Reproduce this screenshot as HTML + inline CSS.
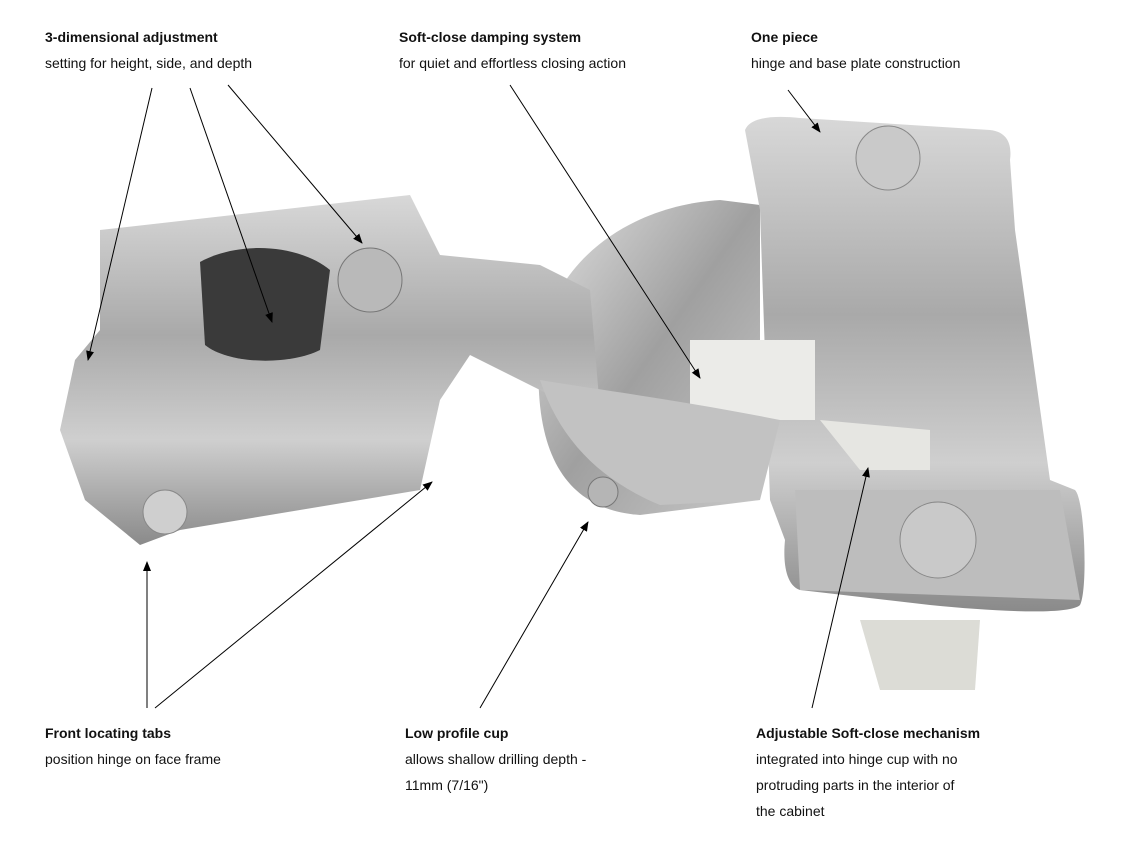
<!DOCTYPE html>
<html><head><meta charset="utf-8"><style>
html,body{margin:0;padding:0;background:#fff;}
body{width:1134px;height:850px;position:relative;overflow:hidden;font-family:"Liberation Sans",sans-serif;color:#111;}
.t{position:absolute;font-size:14px;line-height:26px;}
.t b{font-weight:bold;}
svg{position:absolute;left:0;top:0;}
</style></head><body>
<svg width="1134" height="850" viewBox="0 0 1134 850">
<defs>
<linearGradient id="m" x1="0" y1="0" x2="0" y2="1"><stop offset="0" stop-color="#d8d8d8"/><stop offset=".4" stop-color="#a9a9a9"/><stop offset=".7" stop-color="#cfcfcf"/><stop offset="1" stop-color="#8a8a8a"/></linearGradient>
<linearGradient id="m2" x1="0" y1="0" x2="1" y2="1"><stop offset="0" stop-color="#e2e2e2"/><stop offset=".5" stop-color="#a0a0a0"/><stop offset="1" stop-color="#c8c8c8"/></linearGradient>
<marker id="a" markerWidth="10" markerHeight="10" refX="9" refY="4" orient="auto" markerUnits="userSpaceOnUse"><path d="M0,0 L10,4 L0,8z" fill="#000"/></marker>
</defs>
<!-- cup -->
<path d="M540,340 C560,250 640,205 720,200 L760,205 L760,500 L640,515 C570,510 530,460 540,340Z" fill="url(#m2)"/>
<!-- right base plate -->
<path d="M745,130 C750,118 770,115 800,118 L990,130 C1008,132 1012,145 1010,160 L1015,230 L1050,480 L1075,490 C1085,500 1088,590 1080,605 C1070,615 1000,612 930,605 L800,590 C785,585 783,560 785,540 L770,500 L760,210 Z" fill="url(#m)"/>
<path d="M795,490 L1060,490 L1080,600 L800,590Z" fill="#bdbdbd"/>
<circle cx="938" cy="540" r="38" fill="#c9c9c9" stroke="#888"/>
<circle cx="888" cy="158" r="32" fill="#c9c9c9" stroke="#888"/>
<path d="M860,620 L980,620 L975,690 L880,690Z" fill="#dcdcd6"/>
<!-- white damper -->
<rect x="690" y="340" width="125" height="80" fill="#ebebe8"/>
<path d="M820,420 L930,430 L930,470 L860,470Z" fill="#e6e6e2"/>
<!-- arm -->
<path d="M100,230 L410,195 L440,255 L540,265 L590,290 L600,410 L560,400 L470,355 L440,400 L420,490 L180,530 L140,545 L85,500 L60,430 L75,360 L100,330 Z" fill="url(#m)"/>
<path d="M540,380 C600,390 680,400 780,420 L760,500 L660,505 C600,480 560,440 540,380Z" fill="#c2c2c2"/>
<path d="M200,262 C240,240 300,245 330,270 L320,350 C290,365 230,365 205,345Z" fill="#3a3a3a"/>
<circle cx="370" cy="280" r="32" fill="#b9b9b9" stroke="#777"/>
<circle cx="165" cy="512" r="22" fill="#cfcfcf" stroke="#888"/>
<circle cx="603" cy="492" r="15" fill="#b5b5b5" stroke="#777"/>
<g stroke="#000" stroke-width="1" fill="none" marker-end="url(#a)">
<line x1="152" y1="88" x2="88" y2="360"/>
<line x1="190" y1="88" x2="272" y2="322"/>
<line x1="228" y1="85" x2="362" y2="243"/>
<line x1="510" y1="85" x2="700" y2="378"/>
<line x1="788" y1="90" x2="820" y2="132"/>
<line x1="147" y1="708" x2="147" y2="562"/>
<line x1="155" y1="708" x2="432" y2="482"/>
<line x1="480" y1="708" x2="588" y2="522"/>
<line x1="812" y1="708" x2="868" y2="468"/>
</g>
</svg>
<div class="t" style="left:45px;top:24px"><b>3-dimensional adjustment</b><br>setting for height, side, and depth</div>
<div class="t" style="left:399px;top:24px"><b>Soft-close damping system</b><br>for quiet and effortless closing action</div>
<div class="t" style="left:751px;top:24px"><b>One piece</b><br>hinge and base plate construction</div>
<div class="t" style="left:45px;top:720px"><b>Front locating tabs</b><br>position hinge on face frame</div>
<div class="t" style="left:405px;top:720px"><b>Low profile cup</b><br>allows shallow drilling depth -<br>11mm (7/16")</div>
<div class="t" style="left:756px;top:720px"><b>Adjustable Soft-close mechanism</b><br>integrated into hinge cup with no<br>protruding parts in the interior of<br>the cabinet</div>
</body></html>
